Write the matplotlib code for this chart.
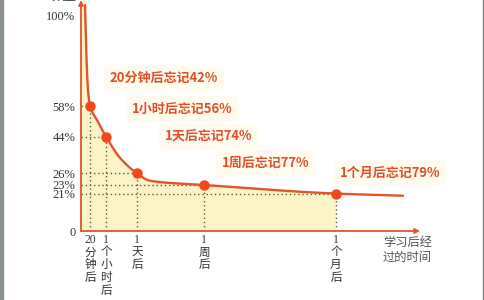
import numpy as np
import matplotlib
matplotlib.use("Agg")
import matplotlib.pyplot as plt
from matplotlib.patches import Rectangle

# ---------------- data ----------------
# schematic positions of the time points along the x axis (axis units)
time_labels = ["20\n分\n钟\n后", "1\n个\n小\n时\n后", "1\n天\n后", "1\n周\n后", "1\n个\n月\n后"]
time_pos = [9, 25, 56, 123, 255]
retention = [58, 44, 26, 23, 21]          # % remembered
notes = ["20分钟后忘记42%", "1小时后忘记56%", "1天后忘记74%", "1周后忘记77%", "1个月后忘记79%"]

# trace of the forgetting curve (axis units, %)
curve_x = [4, 5.5, 7, 9, 16, 25, 39, 56, 69, 123, 255, 322]
curve_y = [105, 80, 65.5, 58, 51.6, 44, 33.6, 26, 24.1, 23, 21, 19.8]

ytick_vals = [0, 21, 23, 26, 44, 58, 100]
ytick_labels = ["0", "21%", "23%", "26%", "44%", "58%", "100%"]

# schematic (non-linear) vertical scale of the original drawing
scale_vals = [0, 21, 23, 26, 44, 58, 100, 200]
scale_vis = [0, 17.4, 21.4, 26.8, 43.9, 58.1, 100, 200]

# ---------------- helpers ----------------
def fwd(v):
    return np.interp(v, scale_vals, scale_vis)

def inv(v):
    return np.interp(v, scale_vis, scale_vals)

def pchip(xk, yk, xs):
    xk = np.asarray(xk, float); yk = np.asarray(yk, float)
    h = np.diff(xk); d = np.diff(yk) / h
    n = len(xk); m = np.zeros(n)
    for k in range(1, n - 1):
        if d[k - 1] * d[k] <= 0:
            m[k] = 0
        else:
            w1 = 2 * h[k] + h[k - 1]; w2 = h[k] + 2 * h[k - 1]
            m[k] = (w1 + w2) / (w1 / d[k - 1] + w2 / d[k])
    m[0] = d[0]; m[-1] = d[-1]
    idx = np.clip(np.searchsorted(xk, xs) - 1, 0, n - 2)
    t = (xs - xk[idx]) / h[idx]
    h00 = 2 * t**3 - 3 * t**2 + 1; h10 = t**3 - 2 * t**2 + t
    h01 = -2 * t**3 + 3 * t**2; h11 = t**3 - t**2
    return (h00 * yk[idx] + h10 * h[idx] * m[idx] +
            h01 * yk[idx + 1] + h11 * h[idx] * m[idx + 1])

# ---------------- figure ----------------
W, H = 484, 300
fig = plt.figure(figsize=(W / 100, H / 100), dpi=100, facecolor="white")
ax = fig.add_axes([81 / W, 69 / H, 403 / W, 231 / H])
ax.set_facecolor("none")
ax.set_yscale("function", functions=(fwd, inv))
ax.set_xlim(0, 403)
ax.set_ylim(0, 107.4)

orange = "#e4532c"
dot_c = "#f2481c"
grid_c = "#5e5e3a"
fill_c = "#fcf4c6"

# smooth curve (interpolated in the visual space)
xs = np.linspace(curve_x[0], curve_x[-1], 800)
ys = inv(pchip(curve_x, fwd(curve_y), xs))

mask = xs <= time_pos[-1]
ax.fill_between(xs[mask], 0, ys[mask], color=fill_c, lw=0, zorder=1)
ax.fill_between([0, curve_x[0]], 0, [107.4, 107.4], color=fill_c, lw=0, zorder=1)

for xp, yv in zip(time_pos, retention):
    ax.plot([0, xp], [yv, yv], color=grid_c, lw=1.0, ls=(0, (1, 2)), zorder=2)
    ax.plot([xp, xp], [0, yv], color=grid_c, lw=1.0, ls=(0, (1, 2)), zorder=2)

ax.plot(xs, ys, color=orange, lw=1.7, zorder=3, solid_capstyle="round")
ax.plot(time_pos, retention, "o", color=dot_c, ms=6.5, zorder=4)

# axes with arrows
for s in ax.spines.values():
    s.set_visible(False)
ax.annotate("", xy=(339 / 403, 0), xytext=(0, 0), xycoords="axes fraction",
            arrowprops=dict(arrowstyle="-|>", color=orange, lw=1.3, mutation_scale=7,
                            shrinkA=0, shrinkB=0), zorder=5)
ax.annotate("", xy=(0, 1.0), xytext=(0, 0), xycoords="axes fraction",
            arrowprops=dict(arrowstyle="-|>", color=orange, lw=1.3, mutation_scale=7,
                            shrinkA=0, shrinkB=0), zorder=5)

# y ticks
ax.set_yticks(ytick_vals)
ax.set_yticklabels(ytick_labels, family=["Liberation Serif"], fontsize=9, color="#333333")
ax.set_xticks([])
ax.tick_params(axis="y", length=0, pad=4)
ax.yaxis.set_minor_locator(matplotlib.ticker.NullLocator())

# x labels (stacked characters)
trans = matplotlib.transforms.blended_transform_factory(ax.transData, ax.transAxes)
for xp, lab in zip(time_pos, time_labels):
    ax.text(xp, -0.012, lab, transform=trans, ha="center", va="top",
            family=["Liberation Serif", "Noto Sans CJK SC"], fontsize=8.4,
            linespacing=1.08, color="#333333")

# axis titles
fig.text(383 / W, 1 - 250 / H, "学习后经\n过的时间", ha="left", va="center",
         family=["Noto Sans CJK SC", "DejaVu Sans"], fontsize=8.8, color="#555555",
         linespacing=1.2)
fig.text(64 / W, 1 + 4 / H, "数量", ha="center", va="center",
         family=["Noto Sans CJK SC", "DejaVu Sans"], fontsize=9, color="#333333")

# annotations
note_pos = [(110, 78), (132, 109), (165, 137), (222, 163), (340, 173)]
for (px, py), t in zip(note_pos, notes):
    fig.text(px / W, 1 - py / H, t, ha="left", va="center",
             family=["Noto Sans CJK SC", "DejaVu Sans"], fontsize=9.4,
             fontweight="bold", color="#e0502a",
             bbox=dict(boxstyle="round,pad=0.45", fc="#fffbee", ec="none"))

# frame strips of the scanned picture
fig.patches.append(Rectangle((0, 0), 3 / W, 1, transform=fig.transFigure,
                             color="#8b9091", zorder=10))
fig.patches.append(Rectangle((482.5 / W, 0), 1.2 / W, 1, transform=fig.transFigure,
                             color="#7a7a7a", zorder=10))

fig.savefig("out.png", dpi=100, facecolor="white")
